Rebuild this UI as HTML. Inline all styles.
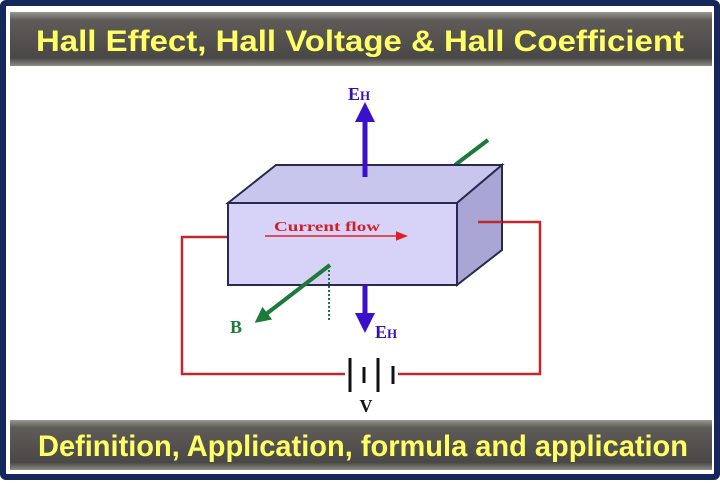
<!DOCTYPE html>
<html><head><meta charset="utf-8"><style>
html,body{margin:0;padding:0;background:#fff;}
</style></head><body>
<svg width="720" height="480" viewBox="0 0 720 480" xmlns="http://www.w3.org/2000/svg">
<defs>
<linearGradient id="bar" x1="0" y1="0" x2="0" y2="1">
<stop offset="0" stop-color="#9a9690"/><stop offset="0.15" stop-color="#5e5b58"/><stop offset="0.85" stop-color="#4a4846"/><stop offset="1" stop-color="#8e8a84"/>
</linearGradient>
<marker id="ab" viewBox="0 0 10 10" refX="5" refY="5" markerWidth="4" markerHeight="4" orient="auto"><path d="M0,0L10,5L0,10z" fill="#3a10c8"/></marker>
<marker id="ag" viewBox="0 0 10 10" refX="5" refY="5" markerWidth="4" markerHeight="4" orient="auto"><path d="M0,0L10,5L0,10z" fill="#1c7a3a"/></marker>
<marker id="ar" viewBox="0 0 10 10" refX="5" refY="5" markerWidth="8" markerHeight="8" orient="auto"><path d="M0,1L10,5L0,9z" fill="#e02020"/></marker>
</defs>
<rect x="0" y="0" width="720" height="480" fill="#fff"/>
<rect x="3" y="3" width="714" height="474" fill="#fff" stroke="#14265a" stroke-width="6" rx="3"/>
<rect x="10" y="12" width="702" height="54" fill="url(#bar)"/>
<rect x="10" y="420" width="702" height="50" fill="url(#bar)"/>
<text x="360" y="51" text-anchor="middle" font-family="Liberation Sans, sans-serif" font-weight="bold" font-size="30" fill="#ffff66" textLength="648" lengthAdjust="spacingAndGlyphs">Hall Effect, Hall Voltage &amp; Hall Coefficient</text>
<text x="363" y="456" text-anchor="middle" font-family="Liberation Sans, sans-serif" font-weight="bold" font-size="30" fill="#ffff66" textLength="650" lengthAdjust="spacingAndGlyphs">Definition, Application, formula and application</text>

<polyline points="228,237 182,237 182,374 345,374" fill="none" stroke="#c0282c" stroke-width="2.5"/>
<polyline points="478,222 540,222 540,374 398,374" fill="none" stroke="#c0282c" stroke-width="2.5"/>
<line x1="350" y1="358" x2="350" y2="392" stroke="#111" stroke-width="3"/>
<line x1="364" y1="367" x2="364" y2="383" stroke="#111" stroke-width="3"/>
<line x1="378" y1="358" x2="378" y2="392" stroke="#111" stroke-width="3"/>
<line x1="393" y1="366" x2="393" y2="384" stroke="#111" stroke-width="3"/>
<text x="366" y="412" text-anchor="middle" font-family="Liberation Serif, serif" font-weight="bold" font-size="18" fill="#111">V</text>

<line x1="455" y1="165" x2="488" y2="140" stroke="#1c7a3a" stroke-width="4"/>
<polygon points="228,203 276,165 502,165 457,203" fill="#c9c6ee" stroke="#2a2a50" stroke-width="2"/>
<polygon points="457,203 502,165 502,250 457,285" fill="#a9a6d6" stroke="#2a2a50" stroke-width="2"/>
<rect x="228" y="203" width="229" height="82" fill="#d6d2f8" stroke="#2a2a50" stroke-width="2"/>
<line x1="478" y1="222" x2="502" y2="222" stroke="#c0282c" stroke-width="2.5"/>
<text x="274" y="231" font-family="Liberation Serif, serif" font-weight="bold" font-size="14" fill="#d0202a" textLength="106" lengthAdjust="spacingAndGlyphs">Current flow</text>
<line x1="265" y1="236" x2="402" y2="236" stroke="#e02020" stroke-width="1.5" marker-end="url(#ar)"/>

<line x1="365" y1="177" x2="365" y2="112" stroke="#3a10c8" stroke-width="5" marker-end="url(#ab)"/>
<text x="348" y="100" font-family="Liberation Serif, serif" font-weight="bold" font-size="18" fill="#3a10b0">E<tspan font-size="13">H</tspan></text>
<line x1="365" y1="285" x2="365" y2="323" stroke="#3a10c8" stroke-width="5" marker-end="url(#ab)"/>
<text x="375" y="338" font-family="Liberation Serif, serif" font-weight="bold" font-size="18" fill="#3a10b0">E<tspan font-size="13">H</tspan></text>

<line x1="329" y1="266" x2="329" y2="320" stroke="#1c7a3a" stroke-width="2" stroke-dasharray="2,2"/>
<line x1="330" y1="265" x2="261" y2="318" stroke="#1c7a3a" stroke-width="4" marker-end="url(#ag)"/>
<text x="230" y="333" font-family="Liberation Serif, serif" font-weight="bold" font-size="18" fill="#1c7a3a">B</text>
</svg>
</body></html>
